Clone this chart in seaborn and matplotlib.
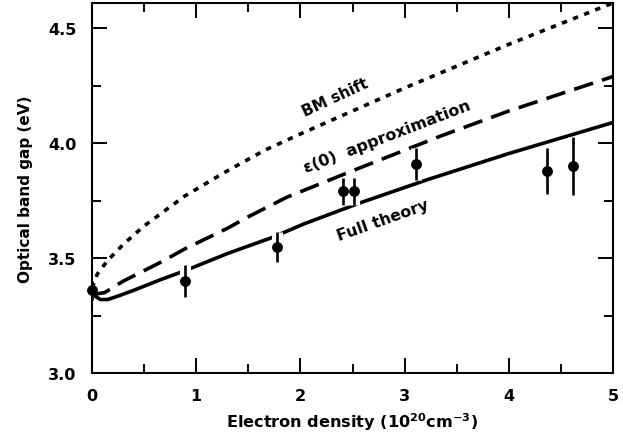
import matplotlib
matplotlib.use("Agg")
import matplotlib.pyplot as plt
import seaborn as sns
from matplotlib.ticker import MultipleLocator

# ---- data ----
full_x = [0.0, 0.03, 0.08, 0.15, 0.25, 0.4, 0.65, 0.89, 1.3, 1.73, 2.04, 2.57, 3.21, 4.0, 5.0]
full_y = [3.36, 3.335, 3.32, 3.32, 3.335, 3.36, 3.405, 3.445, 3.52, 3.59, 3.65, 3.74, 3.84, 3.955, 4.09]

eps_x = [0.0, 0.05, 0.12, 0.3, 0.65, 0.89, 1.3, 1.5, 1.87, 2.5, 3.34, 4.0, 5.0]
eps_y = [3.36, 3.345, 3.35, 3.40, 3.48, 3.54, 3.63, 3.68, 3.765, 3.88, 4.03, 4.14, 4.29]

bm_x = [0.0, 0.05, 0.15, 0.3, 0.5, 0.89, 1.3, 1.66, 2.0, 3.0, 4.0, 5.0]
bm_y = [3.37, 3.43, 3.49, 3.56, 3.64, 3.77, 3.88, 3.97, 4.04, 4.24, 4.43, 4.61]

pts_x = [0.0, 0.89, 1.78, 2.41, 2.51, 3.11, 4.37, 4.62]
pts_y = [3.36, 3.40, 3.55, 3.79, 3.79, 3.91, 3.88, 3.90]
pts_err = [0.04, 0.07, 0.065, 0.06, 0.06, 0.07, 0.10, 0.125]

xticks = [0, 1, 2, 3, 4, 5]
yticks = [3.0, 3.5, 4.0, 4.5]

# ---- style ----
sns.set_style("ticks")
plt.rcParams["font.family"] = ["DejaVu Sans"]
plt.rcParams["font.weight"] = "bold"
plt.rcParams["mathtext.fontset"] = "custom"
plt.rcParams["mathtext.rm"] = "DejaVu Sans:bold"
plt.rcParams["mathtext.bf"] = "DejaVu Sans:bold"
plt.rcParams["mathtext.default"] = "bf"
for key in ["text.color", "axes.labelcolor", "xtick.color", "ytick.color",
            "axes.edgecolor"]:
    plt.rcParams[key] = "black"

fig = plt.figure(figsize=(6.23, 4.35), dpi=100)
ax = fig.add_axes([0.1477, 0.140, 0.8363, 0.851])

lw = 2.6
sns.lineplot(x=bm_x, y=bm_y, ax=ax, color="black", lw=lw,
             linestyle=(0, (1.5, 1.8)), zorder=2)
sns.lineplot(x=eps_x, y=eps_y, ax=ax, color="black", lw=lw,
             linestyle=(0, (5.5, 2.6)), zorder=2)
sns.lineplot(x=full_x, y=full_y, ax=ax, color="black", lw=lw,
             solid_capstyle="round", zorder=2)

# white gaps where the error bars cross the curves
lo = [y - e for y, e in zip(pts_y, pts_err)]
hi = [y + e for y, e in zip(pts_y, pts_err)]
ax.vlines(pts_x[1:], lo[1:], hi[1:], color="white", lw=8, zorder=3)
ax.errorbar(pts_x, pts_y, yerr=pts_err, fmt="o", color="black",
            ms=6.8, elinewidth=1.9, capsize=0, zorder=4, clip_on=False)

ax.set_xlim(0, 5)
ax.set_ylim(3.0, 4.61)
ax.set_xticks(xticks)
ax.set_yticks(yticks)
ax.set_xticklabels([str(t) for t in xticks])
ax.set_yticklabels([f"{t:.1f}" for t in yticks])
ax.xaxis.set_minor_locator(MultipleLocator(0.5))
ax.yaxis.set_minor_locator(MultipleLocator(0.25))
ax.tick_params(which="major", direction="in", length=11, width=1.4,
               top=True, right=True, labelsize=11.5, pad=11)
ax.tick_params(which="minor", direction="in", length=6.5, width=1.4,
               top=True, right=True)
for s in ax.spines.values():
    s.set_linewidth(1.5)
    s.set_visible(True)

ax.set_xlabel(r"Electron density (10$^{20}$cm$^{-3}$)", fontsize=11.6,
              fontweight="bold", labelpad=5)
ax.set_ylabel("Optical band gap (eV)", fontsize=11, fontweight="bold",
              labelpad=11)

ax.text(2.33, 4.20, "BM shift", rotation=25, ha="center", va="center",
        fontsize=11, fontweight="bold")
ax.text(2.83, 4.03, "ε(0)  approximation", rotation=21, ha="center",
        va="center", fontsize=11.5, fontweight="bold")
ax.text(2.79, 3.665, "Full theory", rotation=19.5, ha="center", va="center",
        fontsize=11.3, fontweight="bold")

fig.savefig("out.png", dpi=100)
